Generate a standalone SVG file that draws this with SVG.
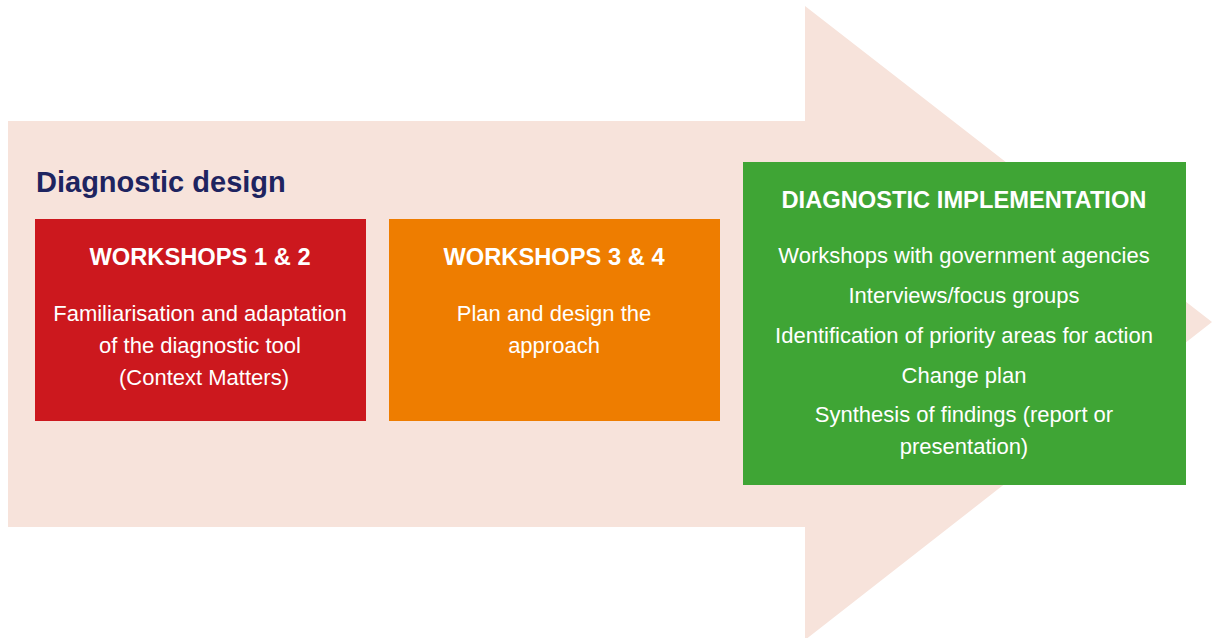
<svg xmlns="http://www.w3.org/2000/svg" width="1212" height="638" viewBox="0 0 1212 638">
<style>
text{font-family:"Liberation Sans",Arial,sans-serif;fill:#fff;text-anchor:middle}
.h{font-weight:bold;font-size:23.7px}
.b{font-size:22px}
.t{font-weight:bold;font-size:29px;fill:#1E2460;text-anchor:start}
</style>
<rect width="1212" height="638" fill="#fff"/>
<polygon points="8,121 805,121 805,6 1212,322 805,640 805,527 8,527" fill="#F7E3DB"/>
<text class="t" x="36" y="192">Diagnostic design</text>
<g id="ws12">
<rect x="35" y="219" width="331" height="202" fill="#CC181E"/>
<text class="h" x="200" y="265">WORKSHOPS 1 &amp; 2</text>
<text class="b" x="200" y="321">Familiarisation and adaptation</text>
<text class="b" x="200" y="353">of the diagnostic tool</text>
<text class="b" x="204" y="385">(Context Matters)</text>
</g>
<g id="ws34">
<rect x="389" y="219" width="331" height="202" fill="#EE7D00"/>
<text class="h" x="554" y="265">WORKSHOPS 3 &amp; 4</text>
<text class="b" x="554" y="321">Plan and design the</text>
<text class="b" x="554" y="353">approach</text>
</g>
<g id="impl">
<rect x="743" y="162" width="443" height="323" fill="#3FA535"/>
<text class="h" x="964" y="208">DIAGNOSTIC IMPLEMENTATION</text>
<text class="b" x="964" y="263">Workshops with government agencies</text>
<text class="b" x="964" y="303">Interviews/focus groups</text>
<text class="b" x="964" y="343">Identification of priority areas for action</text>
<text class="b" x="964" y="383">Change plan</text>
<text class="b" x="964" y="422">Synthesis of findings (report or</text>
<text class="b" x="964" y="454">presentation)</text>
</g>
<g id="connectors"/>
</svg>
